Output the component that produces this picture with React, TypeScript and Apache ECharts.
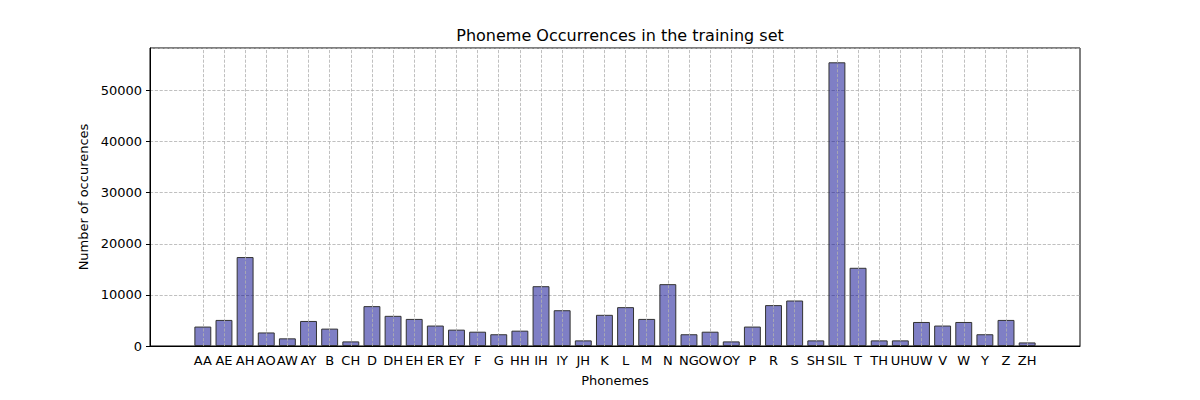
import React, { useEffect, useRef } from 'react';
import * as echarts from 'echarts';

const phonemes = ['AA', 'AE', 'AH', 'AO', 'AW', 'AY', 'B', 'CH', 'D', 'DH', 'EH', 'ER', 'EY', 'F', 'G', 'HH', 'IH', 'IY', 'JH', 'K', 'L', 'M', 'N', 'NG', 'OW', 'OY', 'P', 'R', 'S', 'SH', 'SIL', 'T', 'TH', 'UH', 'UW', 'V', 'W', 'Y', 'Z', 'ZH'];
const occurrences = [3800, 5100, 17400, 2650, 1500, 4900, 3400, 900, 7800, 5900, 5300, 4000, 3200, 2800, 2300, 3000, 11700, 7000, 1100, 6100, 7600, 5300, 12100, 2300, 2800, 900, 3800, 8000, 8900, 1100, 55500, 15300, 1100, 1100, 4700, 4000, 4700, 2300, 5100, 700];
const yTicks = [0, 10000, 20000, 30000, 40000, 50000];
const PAD = 2;

export default function App() {
  const chartRef = useRef<HTMLDivElement>(null);

  useEffect(() => {
    if (!chartRef.current) return;
    const chart = echarts.init(chartRef.current, null, { renderer: 'svg' });
    const pad = Array.from({ length: PAD }, () => '');
    const cats = [...pad, ...phonemes, ...pad];
    const vals = [...pad.map(() => null), ...occurrences, ...pad.map(() => null)];
    const font = 'DejaVu Sans';
    chart.setOption({
      animation: false,
      textStyle: { fontFamily: font },
      title: { text: 'Phoneme Occurrences in the training set', left: 607, top: 14, textAlign: 'center', textStyle: { fontSize: 16, fontWeight: 'normal', color: '#000', fontFamily: font } },
      grid: { left: 142, right: 112, top: 40, bottom: 36, show: true, borderColor: '#000', borderWidth: 1 },
      xAxis: {
        type: 'category', data: cats, boundaryGap: true,
        name: 'Phonemes', nameLocation: 'middle', nameGap: 28, nameTextStyle: { fontSize: 13, color: '#000' },
        axisLine: { lineStyle: { color: '#000' } },
        axisTick: { show: false },
        axisLabel: { interval: 0, color: '#000', fontSize: 13, margin: 8 },
        splitLine: { show: false },
      },
      yAxis: {
        type: 'value', min: 0, max: 58300, interval: 10000,
        name: 'Number of occurences', nameLocation: 'middle', nameGap: 60, nameTextStyle: { fontSize: 13, color: '#000' },
        axisLine: { show: true, lineStyle: { color: '#000' } },
        axisTick: { show: true, length: 4, lineStyle: { color: '#000' } },
        axisLabel: { color: '#000', fontSize: 13, showMaxLabel: false, formatter: (v: number) => (yTicks.includes(v) ? String(v) : '') },
        splitLine: { lineStyle: { color: '#b0b0b0', type: 'dashed', width: 0.8 } },
      },
      series: [{
        type: 'bar', data: vals, barWidth: '80%',
        itemStyle: { color: 'rgba(0,0,139,0.5)', borderColor: '#333', borderWidth: 1 },
        markLine: {
          silent: true, symbol: 'none', label: { show: false },
          lineStyle: { color: '#b0b0b0', type: 'dashed', width: 0.8 },
          data: phonemes.map((_, i) => ({ xAxis: i + PAD })),
        },
      }],
    });
    return () => chart.dispose();
  }, []);

  return <div ref={chartRef} style={{ width: '1184px', height: '384px' }}></div>;
}
